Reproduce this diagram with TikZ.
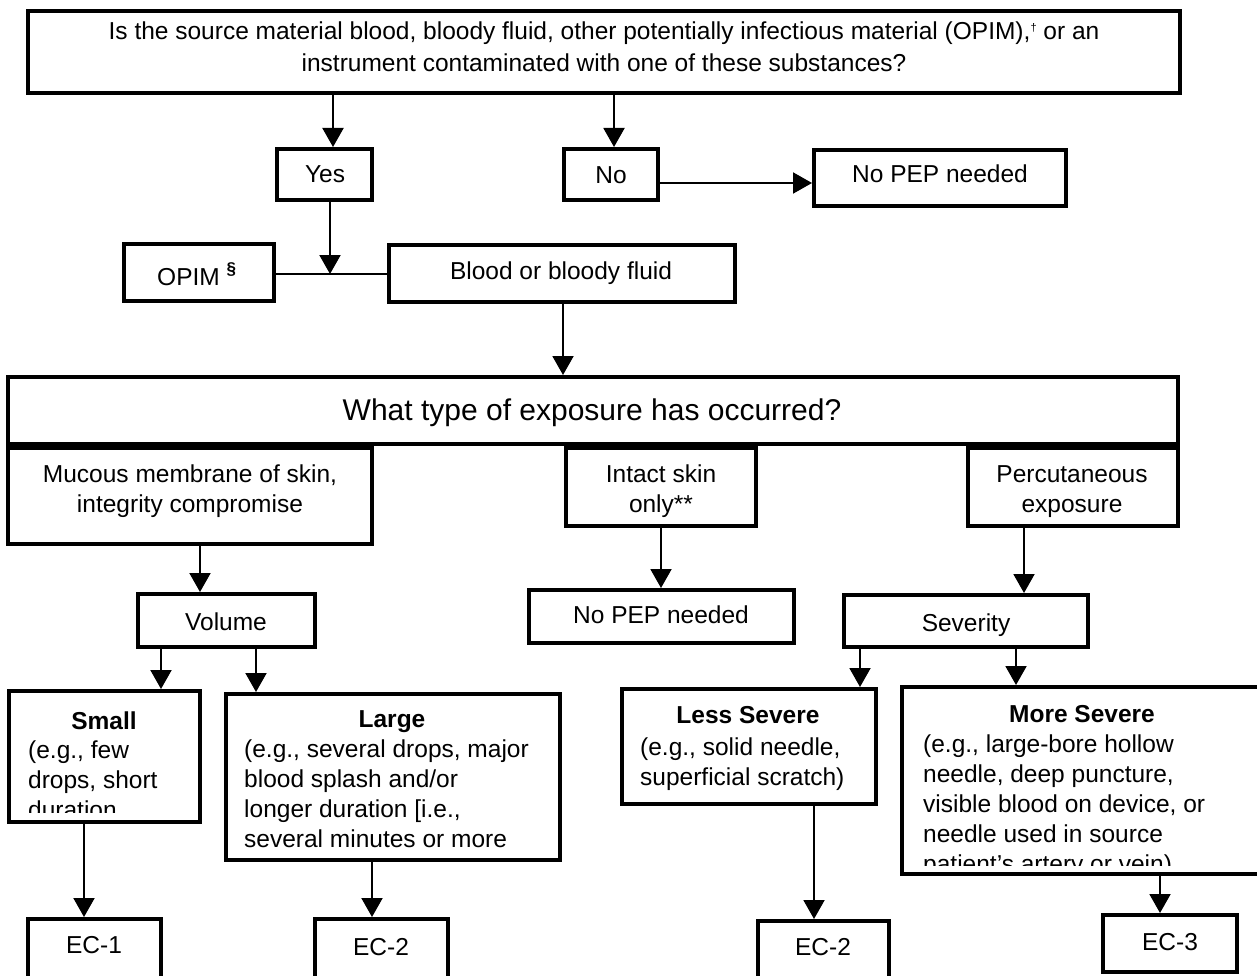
\documentclass[tikz,border=0pt]{standalone}
\usepackage{fontspec}
\setmainfont{Liberation Sans}
\usetikzlibrary{arrows.meta}
\newcommand\bx[5]{\node[box,minimum width={(#4-#2-4)*1pt},minimum height={(#5-#3-4)*1pt}] (#1) at ({(#2+#4)/2},{(#3+#5)/2}) {};}
\begin{document}
\begin{tikzpicture}[x=1pt,y=-1pt,
  box/.style={draw,line width=4pt,inner sep=0pt},
  txt/.style={inner sep=0pt,font=\fontsize{24.5}{30}\selectfont},
  bold/.style={inner sep=0pt,font=\fontsize{24.5}{30}\selectfont\bfseries},
  arr/.style={line width=2pt,-{Triangle[width=21pt,length=19pt]}},
  conn/.style={line width=2pt}]
\clip (0,0) rectangle (1257,976);
% boxes
\bx{top}{26}{9}{1182}{95}
\bx{yes}{275}{147}{374}{202}
\bx{no}{562}{147}{660}{202}
\bx{np1}{812}{148}{1068}{208}
\bx{opim}{122}{242}{276}{303}
\bx{blood}{387}{243}{737}{304}
\bx{expo}{6}{375}{1180}{446}
\bx{muc}{6}{446}{374}{546}
\bx{intact}{564}{446}{758}{528}
\bx{perc}{966}{446}{1180}{528}
\bx{vol}{136}{592}{317}{649}
\bx{np2}{527}{588}{796}{645}
\bx{sev}{842}{593}{1090}{649}
\bx{small}{7}{689}{202}{824}
\bx{large}{224}{692}{562}{862}
\bx{less}{620}{687}{878}{806}
\bx{more}{900}{685}{1263}{876}
\bx{ecA}{26}{917}{163}{995}
\bx{ecB}{313}{917}{450}{995}
\bx{ecC}{756}{919}{891}{995}
\bx{ecD}{1101}{913}{1239}{974}
% texts
\node[txt,anchor=base,font=\fontsize{24.5}{32}\selectfont] (ttop) at (604,40) {\parbox[t]{1150pt}{\centering Is the source material blood, bloody fluid, other potentially infectious material (OPIM),\raisebox{8pt}{\fontsize{11}{11}\selectfont †} or an\\instrument contaminated with one of these substances?}};
\node[txt,anchor=base] (tyes) at (325,183) {Yes};
\node[txt,anchor=base] (tno) at (611,184) {No};
\node[txt,anchor=base] (tnp1) at (940,183) {No PEP needed};
\node[txt,anchor=base west] (topim) at (157,285) {OPIM \raisebox{11pt}{\fontsize{17}{17}\selectfont\bfseries §}};
\node[txt,anchor=base] (tblood) at (561,279) {Blood or bloody fluid};
\node[txt,anchor=base,font=\fontsize{30}{36}\selectfont] (texpo) at (592,420) {What type of exposure has occurred?};
\node[txt,anchor=base] (tmuc) at (190,482) {\parbox[t]{360pt}{\centering Mucous membrane of skin,\\integrity compromise}};
\node[txt,anchor=base] (tintact) at (661,482) {\parbox[t]{190pt}{\centering Intact skin\\only**}};
\node[txt,anchor=base] (tperc) at (1072,482) {\parbox[t]{210pt}{\centering Percutaneous\\exposure}};
\node[txt,anchor=base] (tvol) at (226,630) {Volume};
\node[txt,anchor=base] (tnp2) at (661,623) {No PEP needed};
\node[txt,anchor=base] (tsev) at (966,631) {Severity};
\node[bold,anchor=base] (tsmallh) at (104,729) {Small};
\begin{scope}
\clip (7,680) rectangle (202,812);
\node[txt,anchor=base west] (tsmall) at (28,758) {\parbox[t]{170pt}{\raggedright (e.g., few\\drops, short\\duration}};
\end{scope}
\node[bold,anchor=base] (tlargeh) at (392,727) {Large};
\node[txt,anchor=base west] (tlarge) at (244,757) {\parbox[t]{312pt}{\raggedright (e.g., several drops, major\\blood splash and/or\\longer duration [i.e.,\\several minutes or more}};
\node[bold,anchor=base] (tlessh) at (748,723) {Less Severe};
\node[txt,anchor=base west] (tless) at (640,755) {\parbox[t]{234pt}{\raggedright (e.g., solid needle,\\superficial scratch)}};
\node[bold,anchor=base] (tmoreh) at (1082,722) {More Severe};
\begin{scope}
\clip (900,680) rectangle (1257,865);
\node[txt,anchor=base west] (tmore) at (923,752) {\parbox[t]{320pt}{\raggedright (e.g., large-bore hollow\\needle, deep puncture,\\visible blood on device, or\\needle used in source\\patient’s artery or vein)}};
\end{scope}
\node[txt,anchor=base] (tecA) at (94,953) {EC-1};
\node[txt,anchor=base] (tecB) at (381,955) {EC-2};
\node[txt,anchor=base] (tecC) at (823,955) {EC-2};
\node[txt,anchor=base] (tecD) at (1170,950) {EC-3};
% connector positions
\coordinate (c1) at (333,0);
\coordinate (c2) at (614,0);
\coordinate (cy) at (0,183);
\coordinate (junc) at (330,274);
\coordinate (c4) at (563,0);
\coordinate (c5) at (200,0);
\coordinate (c6) at (661,0);
\coordinate (c7) at (1024,0);
\coordinate (c8) at (161,0);
\coordinate (c9) at (256,0);
\coordinate (c10) at (860,0);
\coordinate (c11) at (1016,0);
\coordinate (c12) at (84,0);
\coordinate (c13) at (372,0);
\coordinate (c14) at (814,0);
\coordinate (c15) at (1160,0);
% connectors
\draw[arr] (top.south -| c1) -- (yes.north -| c1);
\draw[arr] (top.south -| c2) -- (no.north -| c2);
\draw[arr] (no.east |- cy) -- (np1.west |- cy);
\draw[arr] (yes.south -| junc) -- (junc);
\draw[conn] (opim.east |- junc) -- (blood.west |- junc);
\draw[arr] (blood.south -| c4) -- (expo.north -| c4);
\draw[arr] (muc.south -| c5) -- (vol.north -| c5);
\draw[arr] (intact.south -| c6) -- (np2.north -| c6);
\draw[arr] (perc.south -| c7) -- (sev.north -| c7);
\draw[arr] (vol.south -| c8) -- (small.north -| c8);
\draw[arr] (vol.south -| c9) -- (large.north -| c9);
\draw[arr] (sev.south -| c10) -- (less.north -| c10);
\draw[arr] (sev.south -| c11) -- (more.north -| c11);
\draw[arr] (small.south -| c12) -- (ecA.north -| c12);
\draw[arr] (large.south -| c13) -- (ecB.north -| c13);
\draw[arr] (less.south -| c14) -- (ecC.north -| c14);
\draw[arr] (more.south -| c15) -- (ecD.north -| c15);
\end{tikzpicture}
\end{document}
